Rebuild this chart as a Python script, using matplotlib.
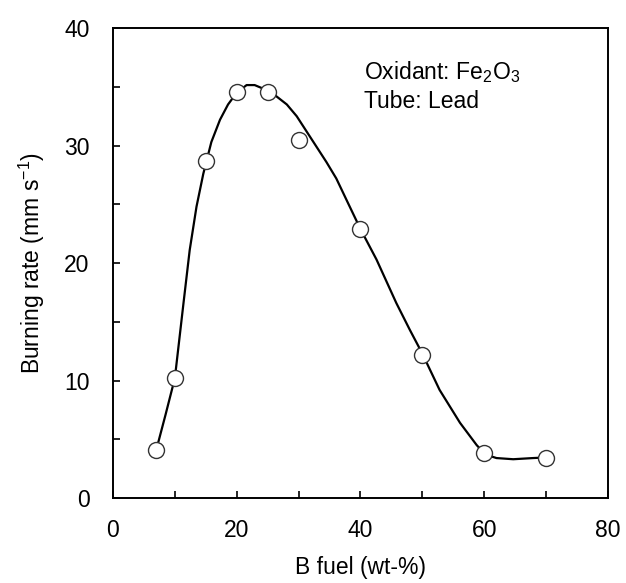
import matplotlib
matplotlib.use('Agg')
import matplotlib.pyplot as plt

plt.rcParams['font.family'] = ['Liberation Sans', 'DejaVu Sans']
plt.rcParams['mathtext.fontset'] = 'custom'
plt.rcParams['mathtext.rm'] = 'Liberation Sans'

# Datos medidos (B fuel wt-% vs burning rate)
b_fuel = [7, 10, 15, 20, 25, 30, 40, 50, 60, 70]
burn_rate = [4.1, 10.2, 28.7, 34.6, 34.6, 30.5, 22.9, 12.2, 3.8, 3.4]

# Curva de tendencia
curve_x = [7.0, 8.5, 10.0, 11.4, 12.4, 13.5, 14.6, 15.9, 17.3, 18.6, 20.0,
           21.6, 22.9, 24.5, 26.4, 28.1, 29.7, 31.3, 32.9, 34.5, 36.1, 38.0,
           40.0, 42.6, 45.8, 48.0, 50.0, 52.8, 56.1, 58.8, 60.2, 62.0, 64.7,
           67.9, 70.0]
curve_y = [4.1, 7.1, 10.2, 16.6, 21.1, 24.8, 27.6, 30.3, 32.2, 33.5, 34.5,
           35.15, 35.15, 34.8, 34.2, 33.5, 32.5, 31.2, 29.9, 28.6, 27.2, 25.1,
           22.9, 20.3, 16.6, 14.3, 12.3, 9.2, 6.4, 4.5, 3.7, 3.4, 3.3,
           3.4, 3.45]

fig = plt.figure(figsize=(6.26, 5.83), dpi=100)
ax = fig.add_axes([0.1805, 0.1458, 0.7905, 0.806])

ax.plot(curve_x, curve_y, color='black', lw=1.6, zorder=2)
ax.plot(b_fuel, burn_rate, 'o', ms=11.5, mfc='white', mec='#333333', mew=1.0, zorder=3)

ax.set_xlim(0, 80)
ax.set_ylim(0, 40)
ax.set_xticks([0, 20, 40, 60, 80])
ax.set_xticks([10, 30, 50, 70], minor=True)
ax.set_yticks([0, 10, 20, 30, 40])
ax.set_yticks([5, 15, 25, 35], minor=True)
ax.tick_params(which='both', direction='in', length=5, width=1.2, labelsize=16.5,
               top=False, right=False)
ax.tick_params(axis='x', pad=15)
ax.tick_params(axis='y', pad=17)
for s in ax.spines.values():
    s.set_linewidth(1.4)

ax.set_xlabel('B fuel (wt-%)', fontsize=16.5, labelpad=10)
ax.set_ylabel('Burning rate (mm s$^{-1}$)', fontsize=16.5, labelpad=12)

ax.text(0.507, 0.935, 'Oxidant: Fe$_2$O$_3$', transform=ax.transAxes,
        fontsize=16.5, va='top', ha='left')
ax.text(0.507, 0.868, 'Tube: Lead', transform=ax.transAxes,
        fontsize=16.5, va='top', ha='left')

fig.savefig('out.png', dpi=100)
